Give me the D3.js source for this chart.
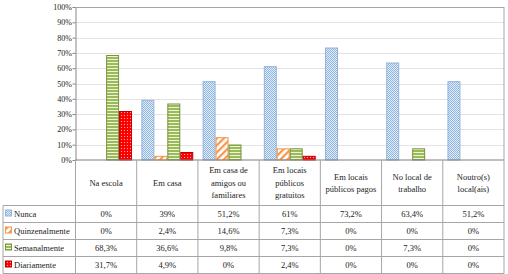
<!DOCTYPE html>
<html><head><meta charset="utf-8">
<script src="https://cdn.jsdelivr.net/npm/d3@7"></script>
<style>body{margin:0;background:#fff}svg{display:block}svg text{font-family:'Liberation Serif','Times New Roman','DejaVu Serif',serif !important;fill:#222}</style>
</head><body><svg id="c" width="508" height="274" font-family="Liberation Serif, Times New Roman, DejaVu Serif, serif"></svg>
<script>
const categories = [["Na escola"],["Em casa"],["Em casa de","amigos ou","familiares"],["Em locais","públicos","gratuitos"],["Em locais","públicos pagos"],["No local de","trabalho"],["Noutro(s)","local(ais)"]];
const seriesNames = ["Nunca","Quinzenalmente","Semanalmente","Diariamente"];
const nunca = [0,39,51.2,61,73.2,63.4,51.2];
const quinzenalmente = [0,2.4,14.6,7.3,0,0,0];
const semanalmente = [68.3,36.6,9.8,7.3,0,7.3,0];
const diariamente = [31.7,4.9,0,2.4,0,0,0];
const valueLabels = [
 ["0%","39%","51,2%","61%","73,2%","63,4%","51,2%"],
 ["0%","2,4%","14,6%","7,3%","0%","0%","0%"],
 ["68,3%","36,6%","9,8%","7,3%","0%","7,3%","0%"],
 ["31,7%","4,9%","0%","2,4%","0%","0%","0%"]];
const yTicks = [0,10,20,30,40,50,60,70,80,90,100];
const series = [nunca,quinzenalmente,semanalmente,diariamente];

(function(){
const FF = "Liberation Serif, Times New Roman, DejaVu Serif, serif";
const svg = d3.select("#c");
const defs = svg.append("defs");
let p = defs.append("pattern").attr("id","pN").attr("width",2).attr("height",2).attr("patternUnits","userSpaceOnUse");
p.append("rect").attr("width",2).attr("height",2).attr("fill","#E4EEF9");
p.append("rect").attr("width",1).attr("height",1).attr("fill","#8DB4E2");
p.append("rect").attr("x",1).attr("y",1).attr("width",1).attr("height",1).attr("fill","#8DB4E2");
p = defs.append("pattern").attr("id","pQ").attr("width",5).attr("height",5).attr("patternUnits","userSpaceOnUse").attr("patternTransform","rotate(45)");
p.append("rect").attr("width",5).attr("height",5).attr("fill","#fff");
p.append("rect").attr("width",2.2).attr("height",5).attr("fill","#F79646");
p = defs.append("pattern").attr("id","pS").attr("width",3).attr("height",3).attr("patternUnits","userSpaceOnUse");
p.append("rect").attr("width",3).attr("height",3).attr("fill","#9BBB59");
p.append("rect").attr("y",2).attr("width",3).attr("height",1).attr("fill","#EEF4D9");
p = defs.append("pattern").attr("id","pD").attr("width",3).attr("height",3).attr("patternUnits","userSpaceOnUse");
p.append("rect").attr("width",3).attr("height",3).attr("fill","#FF0000");
p.append("rect").attr("x",1).attr("y",1).attr("width",1).attr("height",1).attr("fill","#FFB0B0");
const fills = ["url(#pN)","url(#pQ)","url(#pS)","url(#pD)"];
const strokes = ["#95B3D7","#F79646","#77933C","#C00000"];

const L = 75.5, R = 504, T = 7, B = 160;
const x = d3.scaleBand().domain(d3.range(categories.length)).range([L,R]);
const xi = d3.scaleBand().domain(d3.range(4)).range([0,x.bandwidth()]).paddingOuter(0.36).paddingInner(0);
const y = d3.scaleLinear().domain([0,100]).range([B,T]);

svg.append("g").selectAll("line").data(yTicks.filter(t=>t>0)).join("line")
 .attr("x1",L).attr("x2",R).attr("y1",d=>Math.round(y(d))+0.5).attr("y2",d=>Math.round(y(d))+0.5)
 .attr("stroke",d=>d===100?"#A6A6A6":"#E3E3E3").attr("stroke-width",1);
svg.append("line").attr("x1",R).attr("x2",R).attr("y1",T).attr("y2",B).attr("stroke","#A6A6A6");

const ax = svg.append("g").attr("transform",`translate(${L},0)`)
 .call(d3.axisLeft(y).tickValues(yTicks).tickFormat(d=>d+"%").tickSize(3).tickSizeOuter(0));
ax.attr("font-family",FF);
ax.select(".domain").attr("stroke","#868686");
ax.selectAll(".tick line").attr("stroke","#868686");
ax.selectAll(".tick text").attr("font-size","8px").attr("fill","#333").attr("x",-3.5);

series.forEach((vals,si)=>{
  svg.append("g").selectAll("rect").data(vals.map((v,i)=>({v,i})).filter(d=>d.v>0)).join("rect")
   .attr("x",d=>x(d.i)+xi(si)+0.5).attr("width",xi.bandwidth()-1)
   .attr("y",d=>y(d.v)).attr("height",d=>B-y(d.v))
   .attr("fill",fills[si]).attr("stroke",strokes[si]).attr("stroke-width",1);
});

const rowH = 17, headB = 205.5, tLeft = 3, tBottom = headB + rowH*4;
const g = svg.append("g").attr("stroke","#A6A6A6").attr("stroke-width",1);
g.append("line").attr("x1",L).attr("x2",R).attr("y1",B).attr("y2",B).attr("stroke","#7F7F7F");
d3.range(categories.length+1).forEach(i=>{
  const xx = i<categories.length? x(i): R;
  g.append("line").attr("x1",xx).attr("x2",xx).attr("y1",B).attr("y2",tBottom);
});
g.append("line").attr("x1",tLeft).attr("x2",tLeft).attr("y1",headB).attr("y2",tBottom);
d3.range(5).forEach(r=>{
  g.append("line").attr("x1",tLeft).attr("x2",R).attr("y1",headB+r*rowH).attr("y2",headB+r*rowH);
});
categories.forEach((lines,i)=>{
  const cx = x(i)+x.bandwidth()/2, lh = 12.5;
  const y0 = (B+headB)/2 - (lines.length-1)*lh/2 + 3;
  const t = svg.append("text").attr("text-anchor","middle").attr("font-size","8.5px").attr("font-family",FF);
  lines.forEach((l,k)=>t.append("tspan").attr("x",cx).attr("y",y0+k*lh).text(l));
});
seriesNames.forEach((nm,si)=>{
  const cy = headB + si*rowH + rowH/2;
  svg.append("rect").attr("x",5.5).attr("y",cy-4).attr("width",6).attr("height",6)
    .attr("fill",fills[si]).attr("stroke",strokes[si]);
  svg.append("text").attr("x",14).attr("y",cy+3).attr("font-size","8.5px").attr("font-family",FF).text(nm);
  valueLabels[si].forEach((lab,i)=>{
    svg.append("text").attr("x",x(i)+x.bandwidth()/2).attr("y",cy+3).attr("text-anchor","middle")
      .attr("font-size","8.5px").attr("font-family",FF).text(lab);
  });
});
})();
</script></body></html>
